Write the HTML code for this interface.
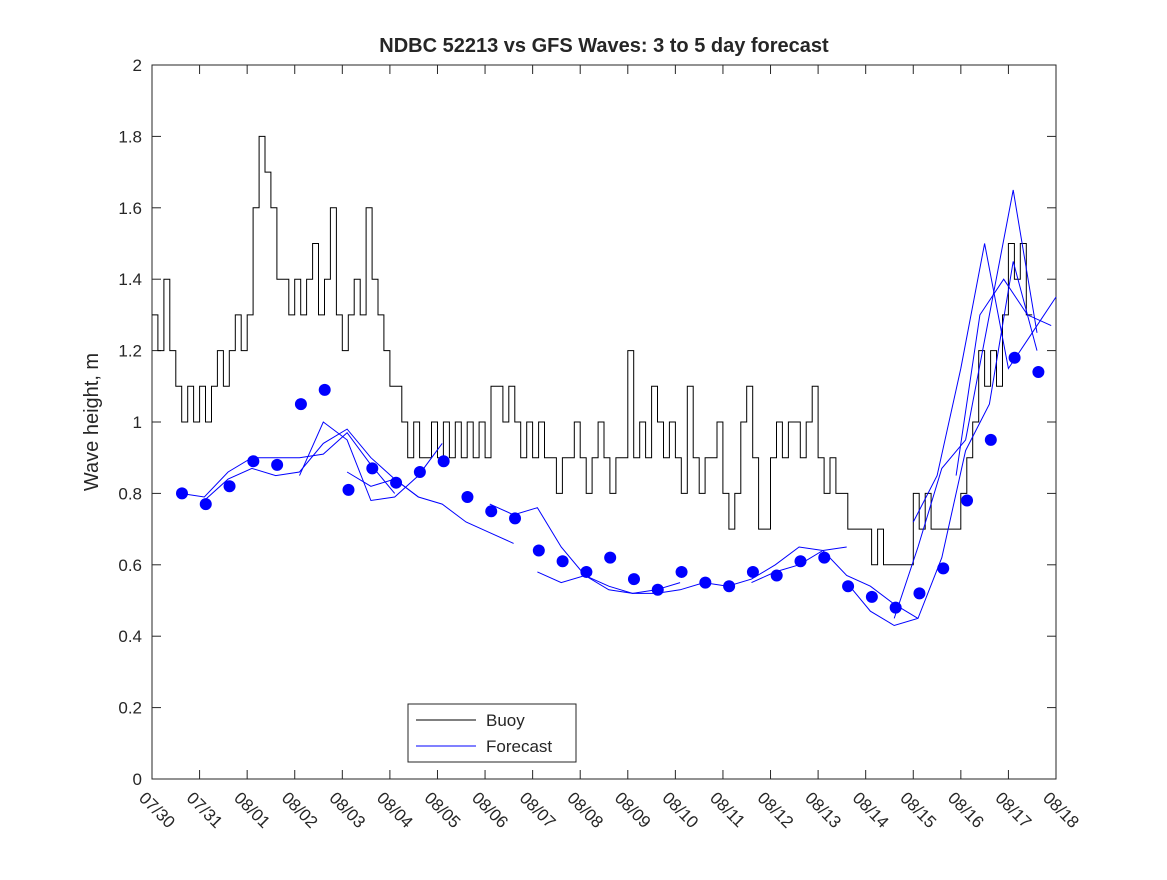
<!DOCTYPE html>
<html><head><meta charset="utf-8"><style>
body{margin:0;background:#fff;}
svg text{font-family:"Liberation Sans",sans-serif;fill:#262626;}
</style></head><body>
<svg id="chart" width="1167" height="875" xmlns="http://www.w3.org/2000/svg"></svg>
<script>
const dateLabels=["07/30","07/31","08/01","08/02","08/03","08/04","08/05","08/06","08/07","08/08","08/09","08/10","08/11","08/12","08/13","08/14","08/15","08/16","08/17","08/18"];
const yTicks=[0,0.2,0.4,0.6,0.8,1,1.2,1.4,1.6,1.8,2];
// buoy: 8 samples per day (3-hourly) starting day 0
const buoy=[1.3,1.2,1.4,1.2,1.1,1.0,1.1,1.0,
1.1,1.0,1.1,1.2,1.1,1.2,1.3,1.2,
1.3,1.6,1.8,1.7,1.6,1.4,1.4,1.3,
1.4,1.3,1.4,1.5,1.3,1.4,1.6,1.3,
1.2,1.3,1.4,1.3,1.6,1.4,1.3,1.2,
1.1,1.1,1.0,0.9,1.0,0.9,0.9,1.0,
0.9,1.0,0.9,1.0,0.9,1.0,0.9,1.0,
0.9,1.1,1.1,1.0,1.1,1.0,0.9,1.0,
0.9,1.0,0.9,0.9,0.8,0.9,0.9,1.0,
0.9,0.8,0.9,1.0,0.9,0.8,0.9,0.9,
1.2,0.9,1.0,0.9,1.1,1.0,0.9,1.0,
0.9,0.8,1.1,0.9,0.8,0.9,0.9,1.0,
0.8,0.7,0.8,1.0,1.1,0.9,0.7,0.7,
0.9,1.0,0.9,1.0,1.0,0.9,1.0,1.1,
0.9,0.8,0.9,0.8,0.8,0.7,0.7,0.7,
0.7,0.6,0.7,0.6,0.6,0.6,0.6,0.6,
0.8,0.7,0.8,0.7,0.7,0.7,0.7,0.7,
0.8,0.9,1.0,1.2,1.1,1.2,1.1,1.3,
1.5,1.4,1.5,1.3];
const dotStart=0.63;
const dots=[0.80,0.77,0.82,0.89,0.88,1.05,1.09,0.81,0.87,0.83,0.86,0.89,0.79,0.75,0.73,0.64,0.61,0.58,0.62,0.56,0.53,0.58,0.55,0.54,0.58,0.57,0.61,0.62,0.54,0.51,0.48,0.52,0.59,0.78,0.95,1.18,1.14];
// forecast lines: start day, values every 0.5 day
const fcStarts=[0.6,1.1,3.1,4.1,7.1,8.1,12.6,14.6,15.6,16.0,16.9];
const fcValues=[
[0.80,0.79,0.86,0.90,0.90,0.90,0.91,0.97,0.88,0.80],
[0.78,0.84,0.87,0.85,0.86,0.94,0.98,0.90,0.84,0.79],
[0.85,1.00,0.95,0.78,0.79,0.85,0.94],
[0.86,0.82,0.84,0.79,0.77,0.72,0.69,0.66],
[0.77,0.74,0.76,0.65,0.57,0.53,0.52,0.53,0.55],
[0.58,0.55,0.57,0.54,0.52,0.52,0.53,0.55,0.54,0.56,0.60,0.65,0.64,0.65],
[0.55,0.58,0.60,0.64,0.57,0.54,0.49,0.45],
[0.55,0.47,0.43,0.45,0.62,0.92,1.05,1.45,1.20],
[0.45,0.65,0.87,0.95,1.30,1.65,1.25],
[0.72,0.85,1.15,1.50,1.15,1.25,1.35],
[0.85,1.30,1.40,1.30,1.27]];
const svg=document.getElementById('chart');
const NS="http://www.w3.org/2000/svg";
const X0=152,X1=1056,Y0=779,Y1=65;
const xs=d=>X0+(X1-X0)*d/19;
const ys=v=>Y0-(Y0-Y1)*v/2;
function mk(tag,attrs,parent){const e=document.createElementNS(NS,tag);for(const k in attrs)e.setAttribute(k,attrs[k]);(parent||svg).appendChild(e);return e;}
const frame=mk('rect',{x:X0,y:Y1,width:X1-X0,height:Y0-Y1,fill:'#fff',stroke:'#262626','stroke-width':1});


dateLabels.forEach((lab,i)=>{
  const x=xs(i);
  const t=mk('line',{x1:x,x2:x,y1:Y0,y2:Y0-9,stroke:'#262626'});
  
  
  mk('line',{x1:x,x2:x,y1:Y1,y2:Y1+9,stroke:'#262626'});
  const tx=mk('text',{x:x-14,y:Y0+20,'font-size':17,transform:`rotate(45 ${x-14} ${Y0+20})`});
  tx.textContent=lab;
  
  
});
yTicks.forEach(v=>{
  const y=ys(v);
  const t=mk('line',{x1:X0,x2:X0+9,y1:y,y2:y,stroke:'#262626'});
  
  
  mk('line',{x1:X1,x2:X1-9,y1:y,y2:y,stroke:'#262626'});
  const tx=mk('text',{x:X0-10,y:y+6,'font-size':17,'text-anchor':'end'});
  tx.textContent=String(v);
  
  
});
let d='';
buoy.forEach((v,i)=>{const x1=xs(i/8),x2=xs((i+1)/8),y=ys(v);d+=(i?'L':'M')+x1.toFixed(1)+','+y.toFixed(1)+'L'+x2.toFixed(1)+','+y.toFixed(1);});
const bl=mk('path',{d:d,fill:'none',stroke:'#000','stroke-width':1});


fcValues.forEach((arr,k)=>{
  const pts=arr.map((v,i)=>xs(fcStarts[k]+i*0.5).toFixed(1)+','+ys(v).toFixed(1)).join(' ');
  const p=mk('polyline',{points:pts,fill:'none',stroke:'#0000ff','stroke-width':1});
  
  
});
dots.forEach((v,i)=>{
  const c=mk('circle',{cx:xs(dotStart+i*0.5),cy:ys(v),r:6,fill:'#0000ff'});
  
  
});
const title=mk('text',{x:604,y:52,'font-size':20,'font-weight':'bold','text-anchor':'middle',fill:'#000'});
title.textContent='NDBC 52213 vs GFS Waves: 3 to 5 day forecast';


const yl=mk('text',{x:98,y:422,'font-size':20,'text-anchor':'middle',transform:'rotate(-90 98 422)'});
yl.textContent='Wave height, m';


const lg=mk('g',{});


mk('rect',{x:408,y:704,width:168,height:58,fill:'#fff',stroke:'#262626'},lg);
const e1=mk('line',{x1:416,x2:476,y1:720,y2:720,stroke:'#000'},lg);


const t1=mk('text',{x:486,y:726,'font-size':17},lg);t1.textContent='Buoy';


const e2=mk('line',{x1:416,x2:476,y1:746,y2:746,stroke:'#0000ff'},lg);


const t2=mk('text',{x:486,y:752,'font-size':17},lg);t2.textContent='Forecast';


</script>
</body></html>
